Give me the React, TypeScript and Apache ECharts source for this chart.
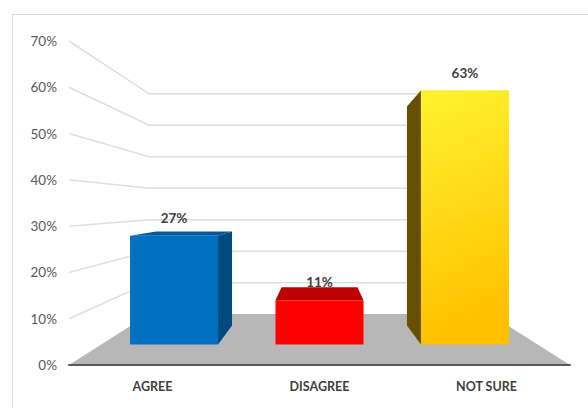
import React, { useEffect, useRef } from "react";
import * as echarts from "echarts";

const categories = ["AGREE", "DISAGREE", "NOT SURE"];
const percentages = [27, 11, 63];
const axisTicks = [0, 10, 20, 30, 40, 50, 60, 70];

const frontColors = [
  "#0070C0",
  "#FF0000",
  new echarts.graphic.LinearGradient(0.05, 0, 0.2, 1, [
    { offset: 0, color: "#FFF22E" },
    { offset: 1, color: "#FFC000" },
  ]),
];
const topColors = ["#005A9C", "#BF0000", "#FFF22E"];
const sideColors = ["#004A80", "#BF0000", "#665000"];

// Depth factors of the simulated 3D box: 1 is the axis plane.
const BAR_FRONT = 0.871;
const BAR_BACK = 0.751;
const WALL = 0.68;
const BAR_BAND_SHARE = 0.605;
const LABEL_GAP = 18;

const FONT = "Lato, Carlito, sans-serif";

// Perspective helper: pulls a plot point towards the vanishing point.
function projector(api: any) {
  const bottomLeft = api.coord([0, 0]);
  const band = api.size([1, 0])[0];
  const centreX = bottomLeft[0] + band;
  const vanishY = bottomLeft[1] - 159;
  return {
    band,
    centreX,
    baseY: bottomLeft[1],
    at: (x: number, y: number, s: number) => [
      centreX + (x - centreX) * s,
      vanishY + (y - vanishY) * s,
    ],
  };
}

function renderFloor(_: any, api: any) {
  const p = projector(api);
  const left = p.centreX - p.band * 1.5;
  const right = p.centreX + p.band * 1.5;
  return {
    type: "polygon",
    shape: {
      points: [
        p.at(left, p.baseY, 1),
        p.at(left, p.baseY, WALL),
        p.at(right, p.baseY, WALL),
        p.at(right, p.baseY, 1),
      ],
    },
    style: { fill: "#B7B7B7" },
  };
}

function renderGridLine(_: any, api: any) {
  const p = projector(api);
  const y = api.coord([0, api.value(0)])[1];
  const left = p.centreX - p.band * 1.5;
  const right = p.centreX + p.band * 1.5;
  return {
    type: "polyline",
    shape: {
      points: [p.at(left, y, 1), p.at(left, y, WALL), p.at(right, y, WALL)],
    },
    style: { fill: "none", stroke: "#DEDEDE", lineWidth: 1.5 },
  };
}

function renderBar(params: any, api: any) {
  const p = projector(api);
  const i = params.dataIndex;
  const [cx, y] = api.coord([api.value(0), api.value(1)]);
  const half = (p.band * BAR_BAND_SHARE) / 2;
  const l = cx - half;
  const r = cx + half;
  const base = p.baseY;
  const poly = (points: number[][], fill: any) => ({
    type: "polygon",
    shape: { points },
    style: { fill },
  });
  // The side that faces the middle of the chart is the visible one.
  const sideX = cx < p.centreX ? r : l;
  const children: any[] = [
    poly(
      [
        p.at(l, y, BAR_FRONT),
        p.at(l, y, BAR_BACK),
        p.at(r, y, BAR_BACK),
        p.at(r, y, BAR_FRONT),
      ],
      topColors[i]
    ),
  ];
  if (Math.abs(cx - p.centreX) > 1) {
    children.push(
      poly(
        [
          p.at(sideX, y, BAR_FRONT),
          p.at(sideX, y, BAR_BACK),
          p.at(sideX, base, BAR_BACK),
          p.at(sideX, base, BAR_FRONT),
        ],
        sideColors[i]
      )
    );
  }
  const tl = p.at(l, y, BAR_FRONT);
  const br = p.at(r, base, BAR_FRONT);
  children.push({
    type: "rect",
    shape: { x: tl[0], y: tl[1], width: br[0] - tl[0], height: br[1] - tl[1] },
    style: { fill: frontColors[i] },
  });
  children.push({
    type: "text",
    style: {
      x: (tl[0] + br[0]) / 2,
      y: tl[1] - LABEL_GAP,
      text: `${percentages[i]}%`,
      fill: "#404040",
      font: `bold 13.5px ${FONT}`,
      align: "center",
      verticalAlign: "middle",
    },
  });
  return { type: "group", children };
}

export default function App() {
  const ref = useRef<HTMLDivElement>(null);

  useEffect(() => {
    if (!ref.current) return;
    const chart = echarts.init(ref.current, undefined, { renderer: "svg" });
    chart.setOption({
      animation: false,
      backgroundColor: "#FFFFFF",
      grid: { left: 69, right: 18, top: 41, bottom: 43, containLabel: false },
      graphic: [
        {
          type: "rect",
          silent: true,
          z: -1,
          // The chart frame runs off the right and bottom of the page.
          shape: { x: 12.5, y: 14.5, width: 600, height: 410 },
          style: { fill: "none", stroke: "#D9D9D9", lineWidth: 1.2 },
        },
      ],
      xAxis: {
        type: "category",
        data: categories,
        axisTick: { show: false },
        axisLine: { show: true, lineStyle: { color: "#595959", width: 2 } },
        axisLabel: {
          color: "#404040",
          fontFamily: FONT,
          fontWeight: "bold",
          fontSize: 12.5,
          margin: 15,
        },
        z: 10,
      },
      yAxis: {
        type: "value",
        min: 0,
        max: 70,
        interval: 10,
        splitLine: { show: false },
        axisLine: { show: false },
        axisTick: { show: false },
        axisLabel: {
          color: "#595959",
          fontFamily: FONT,
          fontSize: 13.5,
          margin: 12,
          formatter: "{value}%",
        },
      },
      series: [
        {
          type: "custom",
          silent: true,
          z: 1,
          renderItem: renderFloor,
          encode: { x: 0, y: 1 },
          data: [[0, 0]],
        },
        {
          type: "custom",
          silent: true,
          z: 2,
          renderItem: renderGridLine,
          encode: { y: 0 },
          data: axisTicks.slice(1).map((t) => [t]),
        },
        {
          type: "custom",
          silent: true,
          z: 3,
          renderItem: renderBar,
          encode: { x: 0, y: 1 },
          data: percentages.map((v, i) => [i, v]),
        },
      ],
    });
    return () => chart.dispose();
  }, []);

  return <div ref={ref} style={{ width: 588, height: 408, position: "fixed", left: 0, top: 0 }} />;
}
